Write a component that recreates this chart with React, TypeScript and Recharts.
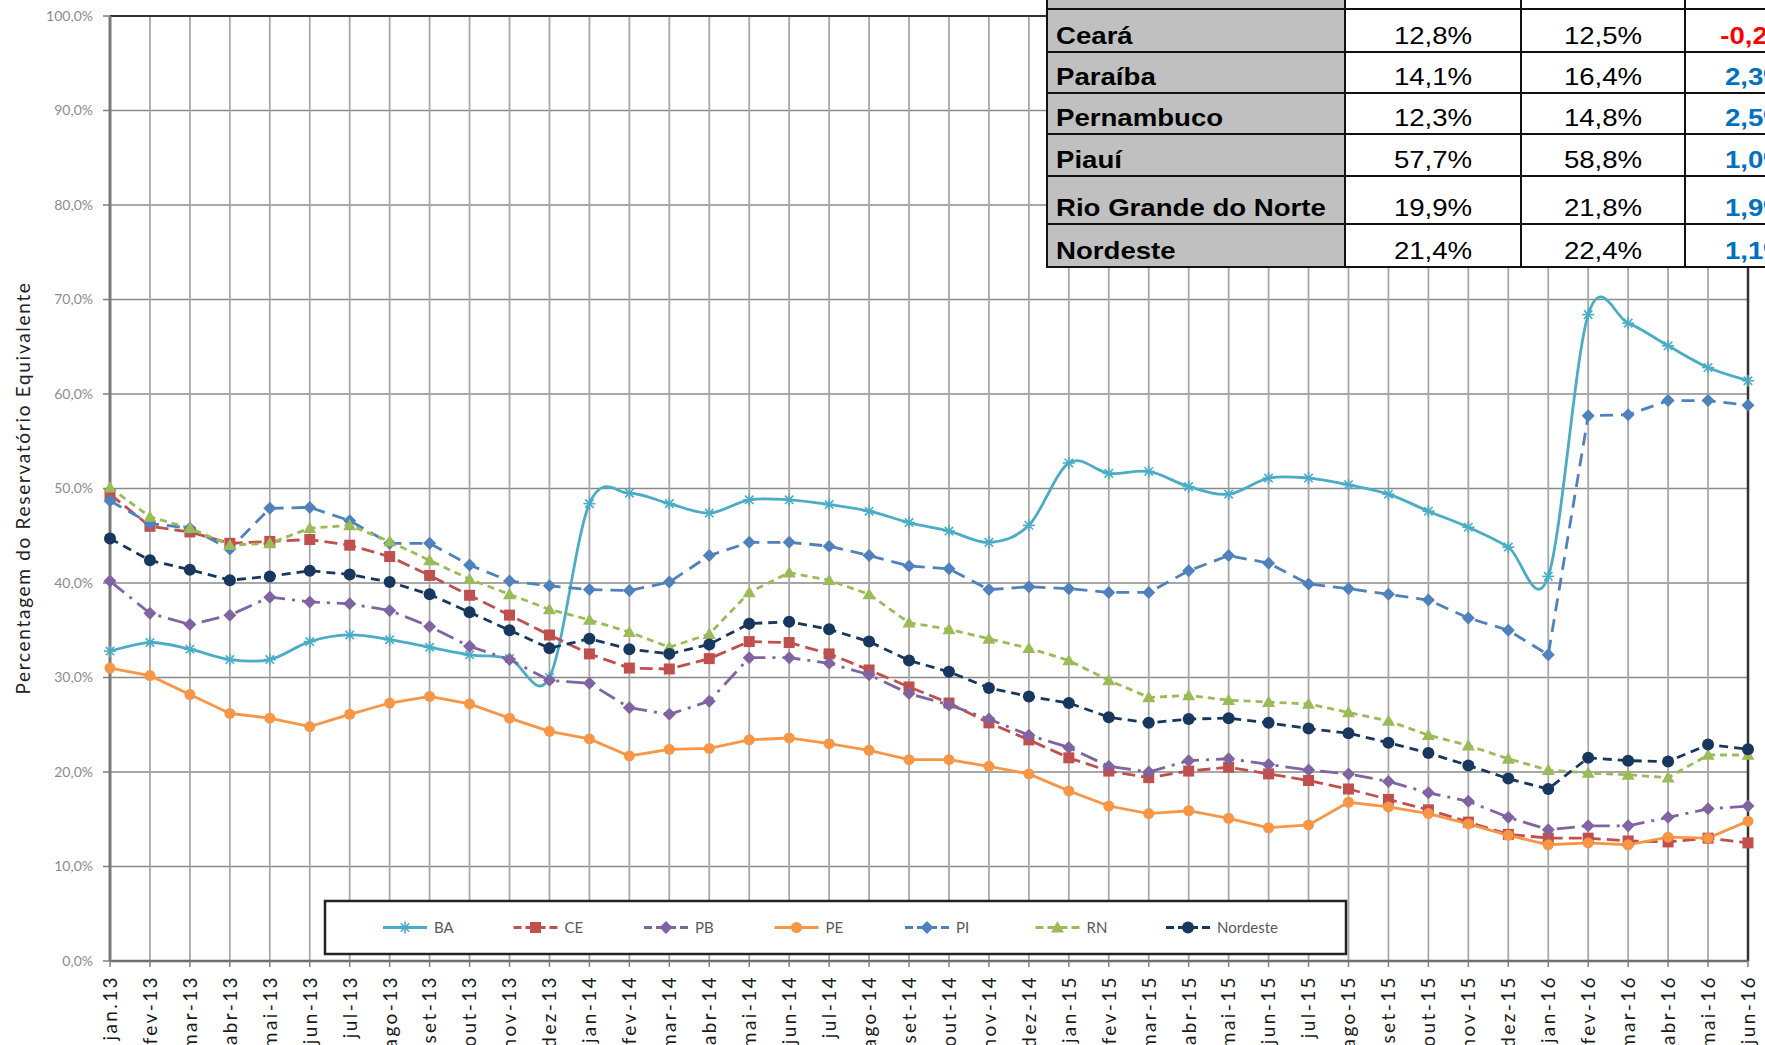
import React from "react";
import {
  CartesianGrid,
  Line,
  LineChart,
  ReferenceLine,
  XAxis,
  YAxis,
} from "recharts";

const months = [
  "jan.13", "fev-13", "mar-13", "abr-13", "mai-13", "jun-13", "jul-13", "ago-13", "set-13", "out-13", "nov-13", "dez-13",
  "jan-14", "fev-14", "mar-14", "abr-14", "mai-14", "jun-14", "jul-14", "ago-14", "set-14", "out-14", "nov-14", "dez-14",
  "jan-15", "fev-15", "mar-15", "abr-15", "mai-15", "jun-15", "jul-15", "ago-15", "set-15", "out-15", "nov-15", "dez-15",
  "jan-16", "fev-16", "mar-16", "abr-16", "mai-16", "jun-16",
];

const ba = [
  32.8, 33.7, 33.0, 31.9, 31.9, 33.8, 34.5, 34.0, 33.2, 32.4, 32.0, 30.0,
  48.4, 49.5, 48.4, 47.4, 48.8, 48.8, 48.3, 47.6, 46.4, 45.5, 44.3, 46.1,
  52.7, 51.6, 51.8, 50.2, 49.4, 51.1, 51.1, 50.4, 49.4, 47.6, 45.9, 43.8,
  40.7, 68.4, 67.5, 65.1, 62.8, 61.4,
];
const ce = [
  49.4, 46.0, 45.4, 44.2, 44.4, 44.6, 44.0, 42.8, 40.8, 38.7, 36.6, 34.5,
  32.5, 31.0, 30.9, 32.0, 33.8, 33.7, 32.5, 30.8, 29.0, 27.3, 25.2, 23.4,
  21.5, 20.1, 19.4, 20.1, 20.5, 19.8, 19.1, 18.2, 17.1, 16.0, 14.7, 13.4,
  13.0, 13.0, 12.7, 12.6, 13.0, 12.5,
];
const pb = [
  40.2, 36.8, 35.6, 36.6, 38.5, 38.0, 37.8, 37.1, 35.4, 33.3, 31.9, 29.7,
  29.4, 26.8, 26.1, 27.5, 32.1, 32.1, 31.5, 30.3, 28.3, 27.1, 25.6, 23.9,
  22.6, 20.6, 20.0, 21.2, 21.4, 20.8, 20.2, 19.8, 19.0, 17.8, 16.9, 15.2,
  13.9, 14.3, 14.3, 15.2, 16.1, 16.4,
];
const pe = [
  31.0, 30.2, 28.2, 26.2, 25.7, 24.8, 26.1, 27.3, 28.0, 27.2, 25.7, 24.3,
  23.5, 21.7, 22.4, 22.5, 23.4, 23.6, 23.0, 22.3, 21.3, 21.3, 20.6, 19.8,
  18.0, 16.4, 15.6, 15.9, 15.1, 14.1, 14.4, 16.8, 16.3, 15.6, 14.5, 13.3,
  12.3, 12.5, 12.3, 13.1, 13.0, 14.8,
];
const pi = [
  48.7, 46.3, 45.8, 43.6, 47.9, 48.0, 46.6, 44.2, 44.2, 41.9, 40.2, 39.7,
  39.3, 39.2, 40.1, 42.9, 44.3, 44.3, 43.9, 42.9, 41.8, 41.5, 39.3, 39.6,
  39.4, 39.0, 39.0, 41.3, 42.9, 42.1, 39.9, 39.4, 38.8, 38.2, 36.3, 35.0,
  32.4, 57.7, 57.8, 59.3, 59.3, 58.8,
];
const rn = [
  50.1, 47.0, 45.8, 44.0, 44.2, 45.8, 46.1, 44.4, 42.4, 40.4, 38.8, 37.2,
  36.1, 34.8, 33.2, 34.6, 39.0, 41.1, 40.3, 38.8, 35.8, 35.1, 34.1, 33.1,
  31.8, 29.7, 27.9, 28.1, 27.6, 27.4, 27.2, 26.3, 25.4, 23.9, 22.8, 21.4,
  20.2, 19.9, 19.7, 19.4, 21.8, 21.8,
];
const nordeste = [
  44.7, 42.4, 41.4, 40.3, 40.7, 41.3, 40.9, 40.1, 38.8, 36.9, 35.0, 33.1,
  34.1, 33.0, 32.5, 33.5, 35.7, 35.9, 35.1, 33.8, 31.8, 30.6, 28.9, 28.0,
  27.3, 25.8, 25.2, 25.6, 25.7, 25.2, 24.6, 24.1, 23.1, 22.0, 20.7, 19.3,
  18.2, 21.5, 21.2, 21.1, 22.9, 22.4,
];

const yTicks = [0, 10, 20, 30, 40, 50, 60, 70, 80, 90, 100];

// summary table (top right)
const tableRegions = ["Bahia", "Ceará", "Paraíba", "Pernambuco", "Piauí", "Rio Grande do Norte", "Nordeste"];
const tableFirst = ["68,7%", "12,8%", "14,1%", "12,3%", "57,7%", "19,9%", "21,4%"];
const tableLast = ["61,4%", "12,5%", "16,4%", "14,8%", "58,8%", "21,8%", "22,4%"];
const tableDiff = ["-7,3%", "-0,2%", "2,3%", "2,5%", "1,0%", "1,9%", "1,1%"];

const data = months.map((m, i) => ({
  m,
  BA: ba[i],
  CE: ce[i],
  PB: pb[i],
  PE: pe[i],
  PI: pi[i],
  RN: rn[i],
  Nordeste: nordeste[i],
}));

type Shape = "star" | "square" | "diamond" | "circle" | "triangle";

const series: { key: string; color: string; dash?: string; shape: Shape; smooth?: boolean; r: number }[] = [
  { key: "BA", color: "#4bacc6", shape: "star", smooth: true, r: 6 },
  { key: "CE", color: "#c0504d", dash: "13 6", shape: "square", r: 5.5 },
  { key: "PB", color: "#8064a2", dash: "18 7 3 7", shape: "diamond", r: 6.5 },
  { key: "PE", color: "#f79646", shape: "circle", r: 5.5 },
  { key: "PI", color: "#4f81bd", dash: "13 8", shape: "diamond", r: 6.5 },
  { key: "RN", color: "#9bbb59", dash: "7 5", shape: "triangle", r: 6.5 },
  { key: "Nordeste", color: "#17375e", dash: "9 6", shape: "circle", r: 6 },
];

// Excel-like smoothing (uniform Catmull-Rom as cubic beziers)
function excelSmooth(context: any) {
  let pts: [number, number][] = [];
  return {
    areaStart() {},
    areaEnd() {},
    lineStart() {
      pts = [];
    },
    point(x: number, y: number) {
      pts.push([+x, +y]);
    },
    lineEnd() {
      const n = pts.length;
      if (!n) return;
      context.moveTo(pts[0][0], pts[0][1]);
      for (let i = 0; i < n - 1; i++) {
        const p0 = pts[Math.max(i - 1, 0)];
        const p1 = pts[i];
        const p2 = pts[i + 1];
        const p3 = pts[Math.min(i + 2, n - 1)];
        context.bezierCurveTo(
          p1[0] + (p2[0] - p0[0]) / 6,
          p1[1] + (p2[1] - p0[1]) / 6,
          p2[0] - (p3[0] - p1[0]) / 6,
          p2[1] - (p3[1] - p1[1]) / 6,
          p2[0],
          p2[1]
        );
      }
    },
  };
}

function Marker({ shape, cx, cy, color, r }: { shape: Shape; cx: number; cy: number; color: string; r: number }) {
  if (cx == null || cy == null) return null;
  switch (shape) {
    case "star":
      return (
        <g stroke={color} strokeWidth={1.6}>
          <line x1={cx - r} y1={cy} x2={cx + r} y2={cy} />
          <line x1={cx} y1={cy - r} x2={cx} y2={cy + r} />
          <line x1={cx - r * 0.7} y1={cy - r * 0.7} x2={cx + r * 0.7} y2={cy + r * 0.7} />
          <line x1={cx - r * 0.7} y1={cy + r * 0.7} x2={cx + r * 0.7} y2={cy - r * 0.7} />
        </g>
      );
    case "square":
      return <rect x={cx - r} y={cy - r} width={r * 2} height={r * 2} fill={color} />;
    case "diamond":
      return <polygon points={`${cx},${cy - r} ${cx + r},${cy} ${cx},${cy + r} ${cx - r},${cy}`} fill={color} />;
    case "triangle":
      return <polygon points={`${cx},${cy - r} ${cx + r},${cy + r * 0.75} ${cx - r},${cy + r * 0.75}`} fill={color} />;
    default:
      return <circle cx={cx} cy={cy} r={r} fill={color} />;
  }
}

function XTick({ x, y, payload }: any) {
  return (
    <g transform={`translate(${x},${y + 6}) rotate(-90)`}>
      <text
        x={0}
        y={0}
        dy="0.36em"
        textAnchor="end"
        fill="#1a1a1a"
        fontSize={19}
        fontFamily="Lato, sans-serif"
        style={{ letterSpacing: 2.4 }}
      >
        {payload.value}
      </text>
    </g>
  );
}

const pct = (v: number) => v.toFixed(1).replace(".", ",") + "%";

function Legend() {
  const pitch = 130.5;
  return (
    <svg
      width={1023}
      height={55}
      style={{ position: "absolute", left: 324, top: 900, overflow: "visible" }}
    >
      <rect x={1} y={1} width={1021} height={53} fill="#fff" stroke="#222" strokeWidth={2.5} />
      {series.map((s, i) => {
        const x0 = 59 + i * pitch;
        const cy = 27.5;
        return (
          <g key={s.key}>
            <line x1={x0} y1={cy} x2={x0 + 44} y2={cy} stroke={s.color} strokeWidth={3} strokeDasharray={s.dash ? "8 4" : undefined} />
            <Marker shape={s.shape} cx={x0 + 22} cy={cy} color={s.color} r={s.r} />
            <text x={x0 + 51} y={cy} dy="0.36em" fontSize={15} fill="#595959" fontFamily="Lato, sans-serif">
              {s.key}
            </text>
          </g>
        );
      })}
    </svg>
  );
}

const colX = [1047, 1345, 1521, 1685, 1827];
const rowY = [-34, 9, 52, 93, 134, 176, 224, 267];

function SummaryTable() {
  const line = "#111";
  const cells: React.ReactNode[] = [];
  tableRegions.forEach((name, r) => {
    const top = rowY[r];
    const h = rowY[r + 1] - rowY[r];
    const texts = [name, tableFirst[r], tableLast[r], tableDiff[r]];
    texts.forEach((t, c) => {
      const isName = c === 0;
      const isDiff = c === 3;
      cells.push(
        <div
          key={`${r}-${c}`}
          style={{
            position: "absolute",
            left: colX[c],
            top,
            width: colX[c + 1] - colX[c],
            height: h,
            background: isName ? "#c0c0c0" : "#fff",
            display: "flex",
            alignItems: "flex-end",
            justifyContent: isName ? "flex-start" : "center",
            paddingBottom: r === 0 ? 10 : 4,
            paddingLeft: isName ? 9 : 0,
            boxSizing: "border-box",
            fontFamily: "'Liberation Sans', Arial, sans-serif",
            fontSize: 24,
            lineHeight: "24px",
            fontWeight: isName || isDiff ? "bold" : "normal",
            color: isDiff ? (t.startsWith("-") ? "#ff0000" : "#0070c0") : "#000",
            whiteSpace: "nowrap",
          }}
        >
          <span style={{ display: "inline-block", transform: "scaleX(1.15)", transformOrigin: isName ? "left" : "center" }}>{t}</span>
        </div>
      );
    });
  });
  const lines: React.ReactNode[] = [];
  colX.forEach((x, i) =>
    lines.push(
      <div key={`v${i}`} style={{ position: "absolute", left: x - 1.25, top: rowY[0], width: 2.5, height: rowY[rowY.length - 1] - rowY[0] + 1, background: line }} />
    )
  );
  rowY.forEach((y, i) =>
    lines.push(
      <div key={`h${i}`} style={{ position: "absolute", left: colX[0] - 1.25, top: y - 1.25, width: colX[colX.length - 1] - colX[0], height: 2.5, background: line }} />
    )
  );
  return (
    <>
      {cells}
      {lines}
    </>
  );
}

export default function App() {
  return (
    <div
      style={{
        position: "absolute",
        left: 0,
        top: 0,
        width: 1765,
        height: 1045,
        overflow: "hidden",
        background: "#fff",
      }}
    >
      <LineChart width={1765} height={1110} data={data} margin={{ top: 16, right: 17, bottom: 0, left: 0 }}>
        <CartesianGrid vertical={false} stroke="#8a8a8a" strokeWidth={1.6} />
        <CartesianGrid horizontal={false} stroke="#a8a8a8" strokeWidth={1.8} />
        <XAxis
          dataKey="m"
          interval={0}
          height={149}
          tick={<XTick />}
          tickSize={6}
          tickMargin={2}
          tickLine={{ stroke: "#7f7f7f", strokeWidth: 1.5 }}
          axisLine={{ stroke: "#6e6e6e", strokeWidth: 2.5 }}
        />
        <YAxis
          width={110}
          domain={[0, 100]}
          ticks={yTicks}
          interval={0}
          tickFormatter={pct}
          tickSize={7}
          tickMargin={10}
          tickLine={{ stroke: "#7f7f7f", strokeWidth: 1.5 }}
          axisLine={{ stroke: "#7a7a7a", strokeWidth: 3 }}
          tick={{ fill: "#8c8c8c", fontSize: 14, fontFamily: "Lato, sans-serif" }}
          label={{
            content: () => (
              <text
                x={22}
                y={488}
                transform="rotate(-90 22 488)"
                textAnchor="middle"
                dominantBaseline="central"
                fontSize={19}
                fill="#222"
                fontFamily="Lato, sans-serif"
                style={{ letterSpacing: 1.7 }}
              >
                Percentagem do Reservatório Equivalente
              </text>
            ),
          }}
        />
        <ReferenceLine y={100} stroke="#333" strokeWidth={2} />
        <ReferenceLine x={months[months.length - 1]} stroke="#333" strokeWidth={2.5} />
        {series.map((s) => (
          <Line
            key={s.key}
            dataKey={s.key}
            type={s.smooth ? (excelSmooth as any) : "linear"}
            stroke={s.color}
            strokeWidth={2.8}
            strokeDasharray={s.dash}
            isAnimationActive={false}
            dot={(p: any) => <Marker key={`${s.key}-${p.index}`} shape={s.shape} cx={p.cx} cy={p.cy} color={s.color} r={s.r} />}
            activeDot={false}
          />
        ))}
      </LineChart>
      <Legend />
      <SummaryTable />
    </div>
  );
}
